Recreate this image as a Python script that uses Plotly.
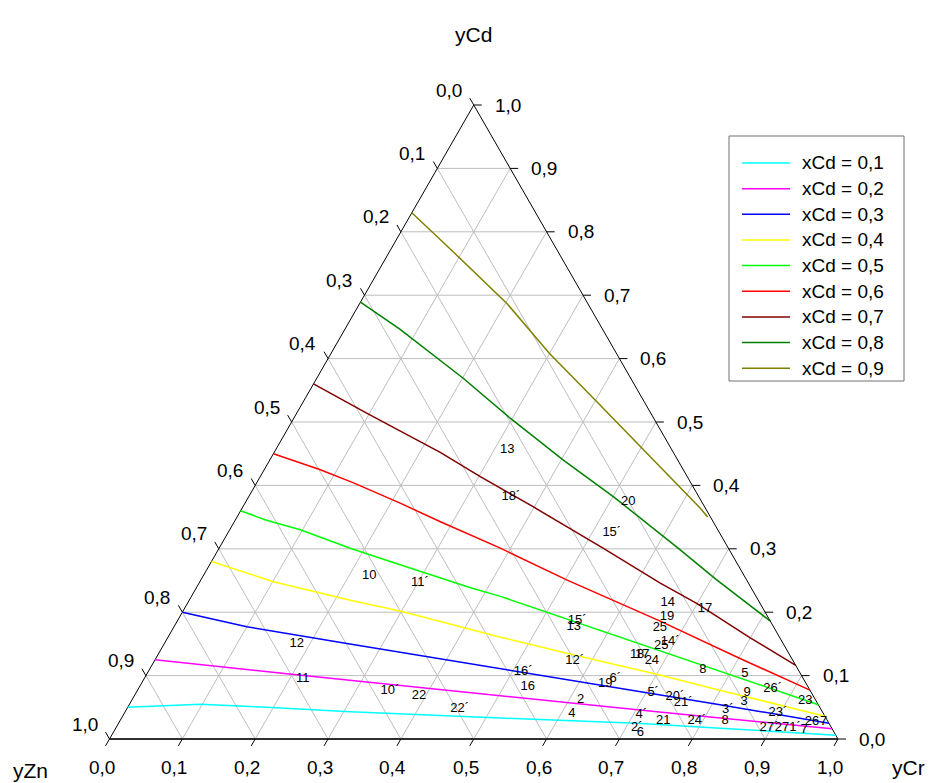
import plotly.graph_objects as go

# ---------------- data (ternary: yCd, yCr; yZn = 1 - yCd - yCr) ----------------
series_names = ["xCd = 0,1", "xCd = 0,2", "xCd = 0,3", "xCd = 0,4", "xCd = 0,5",
                "xCd = 0,6", "xCd = 0,7", "xCd = 0,8", "xCd = 0,9"]
series_colors = ["#00ffff", "#ff00ff", "#0000ff", "#ffff00", "#00ff00",
                 "#ff0000", "#800000", "#008000", "#808000"]

cd_01 = [0.050, 0.055, 0.050, 0.043, 0.033, 0.025, 0.017, 0.006]
cr_01 = [0.000, 0.097, 0.191, 0.309, 0.520, 0.711, 0.830, 0.994]
cd_02 = [0.125, 0.115, 0.103, 0.090, 0.073, 0.057, 0.043, 0.033, 0.016]
cr_02 = [0.000, 0.085, 0.192, 0.308, 0.458, 0.604, 0.730, 0.822, 0.984]
cd_03 = [0.200, 0.177, 0.150, 0.119, 0.085, 0.054, 0.025]
cr_03 = [0.000, 0.100, 0.255, 0.435, 0.635, 0.811, 0.975]
cd_04 = [0.280, 0.248, 0.219, 0.201, 0.161, 0.134, 0.101, 0.077, 0.036]
cr_04 = [0.000, 0.101, 0.221, 0.301, 0.455, 0.565, 0.705, 0.799, 0.964]
cd_05 = [0.360, 0.345, 0.330, 0.301, 0.282, 0.239, 0.225, 0.198, 0.143, 0.106, 0.054]
cr_05 = [0.000, 0.043, 0.097, 0.180, 0.239, 0.375, 0.424, 0.506, 0.675, 0.785, 0.946]
cd_06 = [0.450, 0.425, 0.404, 0.372, 0.343, 0.301, 0.251, 0.186, 0.127, 0.077]
cr_06 = [0.000, 0.076, 0.133, 0.213, 0.282, 0.386, 0.502, 0.663, 0.802, 0.923]
cd_07 = [0.560, 0.514, 0.452, 0.414, 0.366, 0.301, 0.246, 0.214, 0.160, 0.116]
cr_07 = [0.000, 0.096, 0.228, 0.302, 0.399, 0.527, 0.633, 0.699, 0.799, 0.884]
cd_08 = [0.689, 0.646, 0.569, 0.506, 0.440, 0.382, 0.301, 0.251, 0.186]
cr_08 = [0.000, 0.076, 0.201, 0.297, 0.403, 0.501, 0.630, 0.708, 0.814]
cd_09 = [0.830, 0.771, 0.687, 0.608, 0.532, 0.456, 0.364, 0.350]
cr_09 = [0.000, 0.084, 0.202, 0.300, 0.403, 0.505, 0.629, 0.646]

series_cd = [cd_01, cd_02, cd_03, cd_04, cd_05, cd_06, cd_07, cd_08, cd_09]
series_cr = [cr_01, cr_02, cr_03, cr_04, cr_05, cr_06, cr_07, cr_08, cr_09]

# point labels (text, yCd, yCr)
label_text = ["13", "18´", "20", "15´", "10", "11´", "14", "17", "19", "15´",
              "13", "25", "14´", "25", "12", "18", "17", "24", "12´", "8",
              "16´", "16", "19", "6´", "11", "5", "9", "26´", "23", "3",
              "5´", "20´", "21´", "2", "10´", "22", "22´", "4", "4´", "21",
              "24´", "3´", "23´", "8", "2´", "6", "26", "7", "27´", "27", "1´", "7"]
label_cd = [0.456, 0.382, 0.374, 0.325, 0.257, 0.246, 0.2145, 0.205, 0.1924, 0.186,
            0.1767, 0.175, 0.153, 0.1467, 0.150, 0.1325, 0.1325, 0.123, 0.123, 0.1088,
            0.1057, 0.082, 0.0868, 0.0946, 0.0946, 0.1025, 0.0726, 0.0789, 0.060, 0.0584,
            0.0726, 0.0662, 0.0568, 0.0615, 0.0757, 0.0678, 0.0473, 0.0394, 0.0379, 0.0284,
            0.0284, 0.0457, 0.041, 0.0284, 0.0174, 0.0095, 0.0268, 0.0268, 0.0174, 0.0174, 0.0174, 0.0142]
label_cr = [0.318, 0.360, 0.525, 0.527, 0.228, 0.303, 0.659, 0.715, 0.669, 0.549,
            0.549, 0.668, 0.693, 0.684, 0.182, 0.658, 0.665, 0.683, 0.577, 0.760,
            0.515, 0.533, 0.637, 0.647, 0.218, 0.821, 0.839, 0.871, 0.925, 0.842,
            0.710, 0.743, 0.759, 0.616, 0.347, 0.391, 0.457, 0.615, 0.711, 0.746,
            0.792, 0.826, 0.897, 0.831, 0.715, 0.724, 0.951, 0.967, 0.8965, 0.9144, 0.9323, 0.9463]

tick_values = [0.0, 0.1, 0.2, 0.3, 0.4, 0.5, 0.6, 0.7, 0.8, 0.9, 1.0]
tick_labels = ["0,0", "0,1", "0,2", "0,3", "0,4", "0,5", "0,6", "0,7", "0,8", "0,9", "1,0"]


def to_xy(cd, cr):
    """ternary (yCd, yCr) -> cartesian (x, y)"""
    return cr + cd / 2.0, cd


# ---------------- figure geometry (page body has an 8px margin) ----------------
OFF = 8
W, H = 934 - OFF, 783 - OFF
SX, SY = 728.5, 634.0           # px per unit
X0, Y0 = 109.5 - OFF, 739 - OFF  # pixel of the yZn corner inside the figure


def paper(px, py):
    return (px - OFF) / W, 1 - (py - OFF) / H


FONT = "Liberation Sans, Arial, sans-serif"
fig = go.Figure()

# ---------------- grid ----------------
gx, gy = [], []
for v in tick_values[1:-1]:
    for (a, b) in [((v, 0.0), (v, 1 - v)),          # const yCd
                   ((0.0, v), (1 - v, v)),          # const yCr
                   ((0.0, 1 - v), (1 - v, 0.0))]:   # const yZn
        x0, y0 = to_xy(*a)
        x1, y1 = to_xy(*b)
        gx += [x0, x1, None]
        gy += [y0, y1, None]
fig.add_trace(go.Scatter(x=gx, y=gy, mode="lines", line=dict(color="#bdbdbd", width=1),
                         hoverinfo="skip", showlegend=False))

# ---------------- triangle frame ----------------
fx, fy = [], []
for (a, b) in [((1.0, 0.0), (0.0, 0.0)), ((1.0, 0.0), (0.0, 1.0))]:
    x0, y0 = to_xy(*a)
    x1, y1 = to_xy(*b)
    fx += [x0, x1, None]
    fy += [y0, y1, None]
fig.add_trace(go.Scatter(x=fx, y=fy, mode="lines", line=dict(color="black", width=1),
                         hoverinfo="skip", showlegend=False))
bx0, by0 = to_xy(0.0, 0.0)
bx1, by1 = to_xy(0.0, 1.0)
fig.add_trace(go.Scatter(x=[bx0, bx1], y=[by0, by1], mode="lines",
                         line=dict(color="#303030", width=2),
                         hoverinfo="skip", showlegend=False))

# ---------------- ticks ----------------
TX = 4.0 / SX
TY = 6.9 / SY
TR = 8.0 / SX
kx, ky = [], []
for v in tick_values:
    x0, y0 = to_xy(v, 1 - v)          # right axis (yCd)
    kx += [x0, x0 + TR, None]; ky += [y0, y0, None]
    x0, y0 = to_xy(1 - v, 0.0)        # left axis (yZn)
    kx += [x0, x0 - TX, None]; ky += [y0, y0 + TY, None]
    x0, y0 = to_xy(0.0, v)            # bottom axis (yCr)
    kx += [x0, x0 - TX, None]; ky += [y0, y0 - TY, None]
fig.add_trace(go.Scatter(x=kx, y=ky, mode="lines", line=dict(color="black", width=1),
                         hoverinfo="skip", showlegend=False))

annotations = []
shapes = []
for v, lab in zip(tick_values, tick_labels):
    x0, y0 = to_xy(v, 1 - v)
    annotations.append(dict(x=x0, y=y0, xref="x", yref="y", text=lab, showarrow=False,
                            xanchor="left", yanchor="middle", xshift=19,
                            font=dict(size=19, color="black", family=FONT)))
    x0, y0 = to_xy(1 - v, 0.0)
    annotations.append(dict(x=x0, y=y0, xref="x", yref="y", text=lab, showarrow=False,
                            xanchor="right", yanchor="middle", xshift=-10, yshift=15,
                            font=dict(size=19, color="black", family=FONT)))
    x0, y0 = to_xy(0.0, v)
    annotations.append(dict(x=x0, y=y0, xref="x", yref="y", text=lab, showarrow=False,
                            xanchor="center", yanchor="middle", xshift=-8, yshift=-28,
                            font=dict(size=19, color="black", family=FONT)))

# axis titles
for txt, px, py in [("yCd", 474, 35), ("yZn", 30, 770), ("yCr", 908, 767)]:
    ax_, ay_ = paper(px, py)
    annotations.append(dict(x=ax_, y=ay_, xref="paper", yref="paper", text=txt,
                            showarrow=False, xanchor="center", yanchor="middle",
                            font=dict(size=21, color="black", family=FONT)))

# ---------------- series ----------------
for name, col, cds, crs in zip(series_names, series_colors, series_cd, series_cr):
    xs = [cr + cd / 2.0 for cd, cr in zip(cds, crs)]
    fig.add_trace(go.Scatter(x=xs, y=cds, mode="lines", name=name,
                             line=dict(color=col, width=1.5), showlegend=False))

# point labels
lx = [cr + cd / 2.0 for cd, cr in zip(label_cd, label_cr)]
fig.add_trace(go.Scatter(x=lx, y=label_cd, mode="text", text=label_text,
                         textposition="middle center",
                         textfont=dict(size=13, color="black", family=FONT),
                         hoverinfo="skip", showlegend=False))

# ---------------- legend box (drawn) ----------------
lb_x0, lb_y0 = paper(729, 136)
lb_x1, lb_y1 = paper(904, 381)
shapes.append(dict(type="rect", xref="paper", yref="paper", x0=lb_x0, y0=lb_y1,
                   x1=lb_x1, y1=lb_y0, line=dict(color="#707070", width=1),
                   fillcolor="white", layer="above"))
for i, (name, col) in enumerate(zip(series_names, series_colors)):
    row_y = 163 + 25.65 * i
    sx0, sy = paper(742, row_y)
    sx1, _ = paper(790, row_y)
    shapes.append(dict(type="line", xref="paper", yref="paper", x0=sx0, x1=sx1,
                       y0=sy, y1=sy, line=dict(color=col, width=1.5), layer="above"))
    tx, ty = paper(800, row_y)
    annotations.append(dict(x=tx, y=ty, xref="paper", yref="paper", text=name,
                            showarrow=False, xanchor="left", yanchor="middle",
                            font=dict(size=19, color="black", family=FONT)))

fig.update_layout(
    width=W, height=H, autosize=False,
    margin=dict(l=0, r=0, t=0, b=0),
    paper_bgcolor="white", plot_bgcolor="white",
    xaxis=dict(range=[-X0 / SX, (W - X0) / SX], visible=False, fixedrange=True),
    yaxis=dict(range=[(Y0 - H) / SY, Y0 / SY], visible=False, fixedrange=True),
    showlegend=False,
    annotations=annotations,
    shapes=shapes,
    font=dict(family=FONT),
)

fig.write_html("out.html")
